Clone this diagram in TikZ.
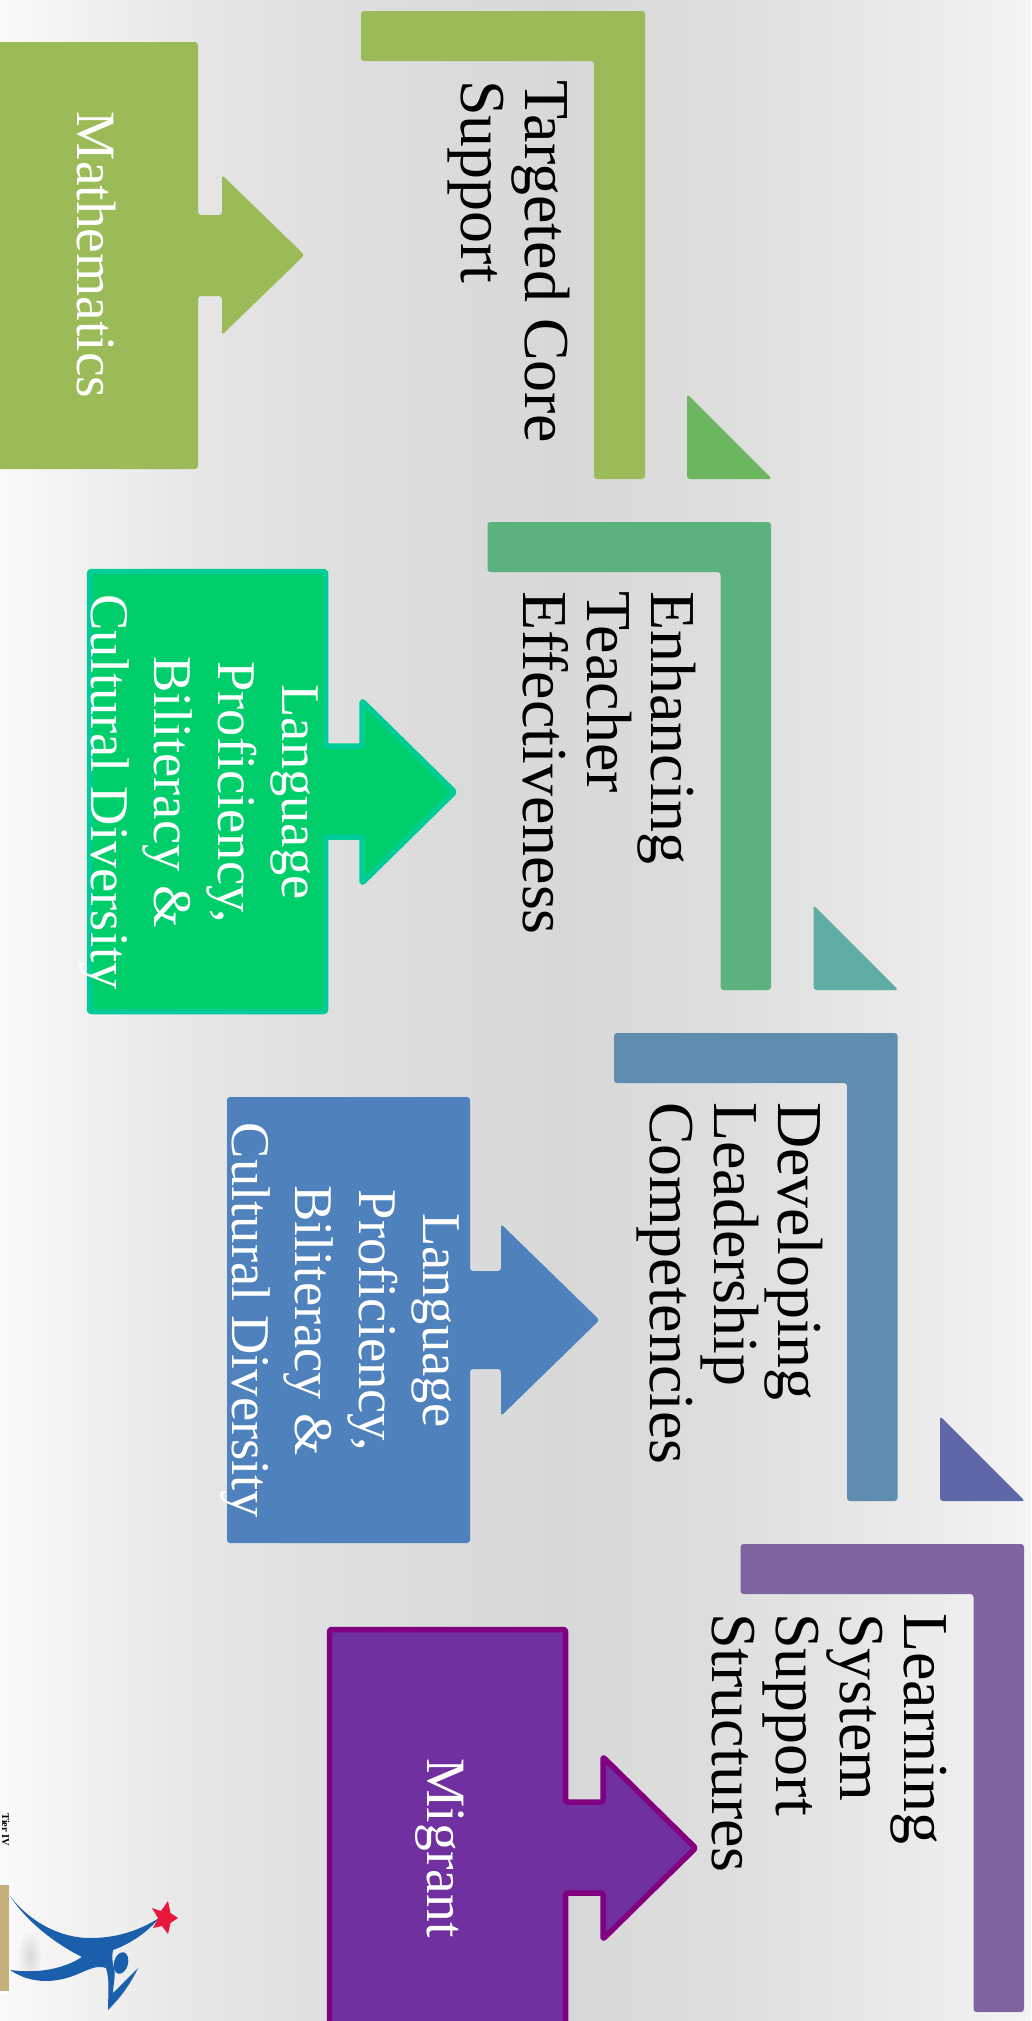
\documentclass[tikz,border=0pt]{standalone}
\usepackage{tikz}
\usepackage{xcolor}
\usepackage{fontspec}
\setmainfont{Liberation Serif}
\definecolor{mathgreen}{HTML}{9BBB59}
\definecolor{tealgreen}{HTML}{5CB27E}
\definecolor{steelblue}{HTML}{5F8DAF}
\definecolor{softpurple}{HTML}{8064A2}
\definecolor{notchgreen}{HTML}{6BB65F}
\definecolor{notchteal}{HTML}{5FAEA5}
\definecolor{notchblue}{HTML}{5F68A7}
\definecolor{langfill}{HTML}{00CE6A}
\definecolor{langline}{HTML}{00CC99}
\definecolor{bluefill}{HTML}{4F81BD}
\definecolor{migrantfill}{HTML}{7030A0}
\definecolor{migrantline}{HTML}{800080}
\definecolor{logoblue}{HTML}{1A5FAB}
\definecolor{logored}{HTML}{E8173C}
\definecolor{logotan}{HTML}{C4B078}
\definecolor{backa}{HTML}{FAFAFA}
\definecolor{backb}{HTML}{F3F3F3}
\definecolor{backc}{HTML}{E6E6E6}
\definecolor{backd}{HTML}{DFDFDF}
\definecolor{backe}{HTML}{D8D8D8}
\definecolor{backf}{HTML}{DEDEDE}
\definecolor{backg}{HTML}{F4F4F4}
\pgfdeclarehorizontalshading{slideback}{100bp}{color(0bp)=(backa); color(25bp)=(backa); color(28.2bp)=(backb); color(34.7bp)=(backc); color(41bp)=(backd); color(52.2bp)=(backe); color(60.2bp)=(backf); color(66.5bp)=(backc); color(75bp)=(backg); color(100bp)=(backg)}
\tikzstyle{headtext} = [rotate=-90, anchor=base west, inner sep=0pt, align=left, text=black, font=\fontsize{64}{64}\selectfont]
\tikzstyle{blocktext} = [rotate=-90, anchor=base, inner sep=0pt, align=center, text=white, font=\fontsize{54.5}{63.7}\selectfont]
\tikzstyle{shapes} = [rounded corners=3pt]
\tikzstyle{outlined} = [rounded corners=2pt, line width=5.5pt, line join=round]

\begin{document}
\begin{tikzpicture}[x=1pt, y=-1pt]
        \path[use as bounding box] (0,0) rectangle (1031,2021);
        \clip (0,0) rectangle (1031,2021);

        \shade[shading=slideback] (0,0) rectangle (1031,2021);

        % corner bars
        \fill[shapes, mathgreen] (361,11) -- (645,11) -- (645,479) -- (594,479) -- (594,61) -- (361,61) -- cycle;
        \fill[shapes, tealgreen] (487.5,522) -- (771,522) -- (771,990) -- (720.5,990) -- (720.5,572) -- (487.5,572) -- cycle;
        \fill[shapes, steelblue] (614,1033) -- (897.5,1033) -- (897.5,1501) -- (847,1501) -- (847,1083) -- (614,1083) -- cycle;
        \fill[shapes, softpurple] (740.5,1544) -- (1024,1544) -- (1024,2012) -- (973.5,2012) -- (973.5,1594) -- (740.5,1594) -- cycle;

        % small triangles
        \fill[shapes, notchgreen] (687,394) -- (772,479) -- (687,479) -- cycle;
        \fill[shapes, notchteal] (813.5,905) -- (898.5,990) -- (813.5,990) -- cycle;
        \fill[shapes, notchblue] (940,1416) -- (1025,1501) -- (940,1501) -- cycle;

        % arrow blocks
        \fill[shapes, mathgreen] (-40,42) -- (198,42) -- (198,215) -- (222,215) -- (222,175) -- (304.5,255) -- (222,335) -- (222,296) -- (198,296) -- (198,469) -- (-40,469) -- cycle;
        \draw[outlined, fill=langfill, draw=langline] (89.5,571.5) -- (325.5,571.5) -- (325.5,746) -- (362,746) -- (362,701) -- (454.5,792) -- (362,883) -- (362,837) -- (325.5,837) -- (325.5,1011.5) -- (89.5,1011.5) -- cycle;
        \fill[shapes, bluefill] (227,1097) -- (470,1097) -- (470,1271) -- (501,1271) -- (501,1224) -- (599.5,1320) -- (501,1416) -- (501,1369) -- (470,1369) -- (470,1543) -- (227,1543) -- cycle;
        \draw[outlined, fill=migrantfill, draw=migrantline] (329.5,1629.5) -- (565.5,1629.5) -- (565.5,1802) -- (603,1802) -- (603,1757) -- (695.5,1848) -- (603,1939) -- (603,1893) -- (565.5,1893) -- (565.5,2069) -- (329.5,2069) -- cycle;

        % texts
        \node[headtext] (targeted) at (461,80) {Targeted Core\\Support};
        \node[headtext] (enhancing) at (523.5,591) {Enhancing\\Teacher\\Effectiveness};
        \node[headtext] (developing) at (650,1102) {Developing\\Leadership\\Competencies};
        \node[headtext] (learning) at (712.5,1613) {Learning\\System\\Support\\Structures};

        \node[blocktext, font=\fontsize{55.5}{63.7}\selectfont] (mathematics) at (77,255) {Mathematics};
        \node[blocktext] (language) at (91,792) {Language\\Proficiency,\\Biliteracy \&\\Cultural Diversity};
        \node[blocktext] (proficiency) at (232,1320.5) {Language\\Proficiency,\\Biliteracy \&\\Cultural Diversity};
        \node[blocktext, font=\fontsize{55.5}{63.7}\selectfont] (migrant) at (427,1848) {Migrant};

        % logo
        \shade[inner color=black!15, outer color=backb] (30,1957) ellipse (11 and 24);
        \fill[logotan] (0,1885) rectangle (9,1991);
        \fill[white] (0,1991) rectangle (9,1993);
        \fill[logoblue] (10,1896) .. controls (30,1922) and (60,1938) .. (90,1938) .. controls (118,1938) and (140,1930) .. (159,1918) .. controls (148,1932) and (130,1944) .. (113,1950) .. controls (112,1956) and (112,1962) .. (114,1968) .. controls (116,1976) and (113,1985) .. (113,1993) -- (138,1968) .. controls (130,1985) and (120,1998) .. (108,2010) .. controls (108,1995) and (110,1980) .. (106,1968) .. controls (95,1964) and (85,1972) .. (70,1977) .. controls (45,1985) and (25,1980) .. (10,1970) .. controls (40,1974) and (65,1968) .. (82,1957) .. controls (60,1946) and (30,1926) .. (10,1896) -- cycle;
        \fill[logoblue, rotate around={-15:(121,1963)}] (121,1963) ellipse (7 and 11);
        \fill[logored] (168,1901) -- (170.5,1913) -- (178,1918) -- (170.5,1923) -- (168,1934) -- (162,1926) -- (153,1928) -- (158,1918) -- (152,1908) -- (161,1911) -- cycle;
        \node[rotate=-90, anchor=base west, inner sep=0pt, font=\fontsize{10.5}{10.5}\selectfont\bfseries] (tier) at (2,1813) {Tier IV};
\end{tikzpicture}
\end{document}
